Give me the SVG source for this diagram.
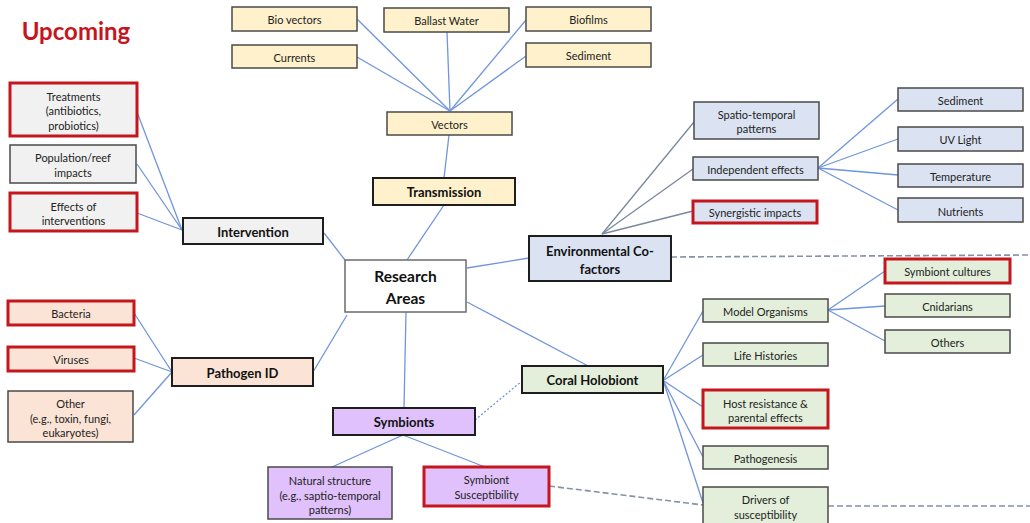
<svg xmlns="http://www.w3.org/2000/svg" width="1030" height="523" viewBox="0 0 1030 523">
<style>
text{font-family:Lato,"Liberation Sans",sans-serif;fill:#222;text-anchor:middle;dominant-baseline:central}
.t{font-size:11px}
.h{font-size:13px;font-weight:bold;fill:#111}
.leaf{stroke:#4a4a4a;stroke-width:1.5}
.main{stroke:#1e1e1e;stroke-width:2}
.red{stroke:#c5161d;stroke-width:3}
.yel{fill:#fef1cb}.gry{fill:#f1f1f1}.pch{fill:#fbe4d5}.pur{fill:#e0c1fb}.blu{fill:#dbe3f2}.grn{fill:#e3efda}
.c{stroke:#6f95dc;stroke-width:1.3;fill:none}
.g{stroke:#7a879d;stroke-width:1.3;fill:none}
.d{stroke:#8591a6;stroke-width:1.6;stroke-dasharray:6 3;fill:none}
.o{stroke:#6f95dc;stroke-width:1.3;stroke-dasharray:2 2;fill:none}
</style>
<text x="76" y="30" style="font-size:24px;font-weight:bold;fill:#c5161d">Upcoming</text>
<g id="connectors">
<line class="c" x1="357" y1="19" x2="450" y2="111"/>
<line class="c" x1="357" y1="57" x2="450" y2="111"/>
<line class="c" x1="447" y1="32" x2="450" y2="111"/>
<line class="c" x1="526" y1="20" x2="450" y2="111"/>
<line class="c" x1="526" y1="56" x2="450" y2="111"/>
<line class="c" x1="449" y1="135" x2="444" y2="178"/>
<line class="c" x1="444" y1="205" x2="407" y2="260"/>
<line class="c" x1="137" y1="112" x2="182" y2="230"/>
<line class="c" x1="137" y1="164" x2="182" y2="230"/>
<line class="c" x1="137" y1="213" x2="182" y2="230"/>
<line class="c" x1="324" y1="233" x2="345" y2="260"/>
<line class="c" x1="134" y1="313" x2="172" y2="372"/>
<line class="c" x1="134" y1="358" x2="172" y2="372"/>
<line class="c" x1="134" y1="415" x2="172" y2="372"/>
<line class="c" x1="313" y1="372" x2="347" y2="315"/>
<line class="c" x1="406" y1="312" x2="404" y2="408"/>
<line class="c" x1="403" y1="435" x2="332" y2="467"/>
<line class="c" x1="403" y1="435" x2="485" y2="467"/>
<line class="c" x1="467" y1="268" x2="529" y2="258"/>
<line class="c" x1="467" y1="302" x2="590" y2="367"/>
<line class="o" x1="475" y1="420" x2="522" y2="381"/>
<line class="g" x1="602" y1="234" x2="694" y2="122"/>
<line class="g" x1="602" y1="234" x2="693" y2="169"/>
<line class="g" x1="602" y1="234" x2="693" y2="211"/>
<line class="c" x1="818" y1="168" x2="898" y2="99"/>
<line class="c" x1="818" y1="168" x2="898" y2="139"/>
<line class="c" x1="818" y1="168" x2="898" y2="175"/>
<line class="c" x1="818" y1="168" x2="898" y2="210"/>
<line class="c" x1="664" y1="379" x2="703" y2="311"/>
<line class="c" x1="664" y1="380" x2="703" y2="355"/>
<line class="c" x1="664" y1="381" x2="703" y2="407"/>
<line class="c" x1="664" y1="382" x2="703" y2="457"/>
<line class="c" x1="664" y1="383" x2="703" y2="503"/>
<line class="c" x1="828" y1="310" x2="885" y2="271"/>
<line class="c" x1="828" y1="310" x2="885" y2="306"/>
<line class="c" x1="828" y1="310" x2="885" y2="341"/>
<line class="d" x1="671" y1="257" x2="1030" y2="255"/>
<line class="d" x1="549" y1="486" x2="703" y2="505"/>
<line class="d" x1="828" y1="506" x2="1030" y2="506"/>
</g>
<g id="bio-vectors"><rect class="leaf yel" x="232" y="7" width="125" height="24"/><text class="t" x="294.5" y="19">Bio vectors</text></g>
<g id="currents"><rect class="leaf yel" x="232" y="45" width="125" height="23"/><text class="t" x="294.5" y="57">Currents</text></g>
<g id="ballast-water"><rect class="leaf yel" x="384" y="8" width="125" height="24"/><text class="t" x="446.5" y="20">Ballast Water</text></g>
<g id="biofilms"><rect class="leaf yel" x="526" y="7" width="125" height="24"/><text class="t" x="588.5" y="19">Biofilms</text></g>
<g id="sediment-v"><rect class="leaf yel" x="526" y="43" width="125" height="24"/><text class="t" x="588.5" y="55">Sediment</text></g>
<g id="vectors"><rect class="leaf yel" x="387" y="112" width="125" height="23"/><text class="t" x="449.5" y="124">Vectors</text></g>
<g id="transmission"><rect class="main yel" x="373" y="178" width="142" height="27"/><text class="h" x="444" y="192">Transmission</text></g>
<g id="treatments"><rect class="red gry" x="10" y="83" width="127" height="53"/><text class="t" x="73.5" y="96">Treatments</text><text class="t" x="73.5" y="110.5">(antibiotics,</text><text class="t" x="73.5" y="125">probiotics)</text></g>
<g id="population"><rect class="leaf gry" x="10" y="145" width="126" height="38"/><text class="t" x="73" y="157">Population/reef</text><text class="t" x="73" y="172">impacts</text></g>
<g id="effects"><rect class="red gry" x="10" y="193" width="127" height="38"/><text class="t" x="73.5" y="206">Effects of</text><text class="t" x="73.5" y="220">interventions</text></g>
<g id="intervention"><rect class="main gry" x="183" y="218" width="140" height="26"/><text class="h" x="253" y="232">Intervention</text></g>
<g id="research-areas"><rect x="345" y="260" width="121" height="52" fill="#fff" stroke="#6b6b6b" stroke-width="1.5"/><text class="h" x="405.5" y="276" style="font-size:15.5px">Research</text><text class="h" x="405.5" y="298" style="font-size:15.5px">Areas</text></g>
<g id="bacteria"><rect class="red pch" x="8" y="301" width="126" height="24"/><text class="t" x="71" y="313">Bacteria</text></g>
<g id="viruses"><rect class="red pch" x="8" y="347" width="126" height="24"/><text class="t" x="71" y="359">Viruses</text></g>
<g id="other"><rect class="leaf pch" x="8" y="391" width="125" height="51"/><text class="t" x="70.5" y="403">Other</text><text class="t" x="70.5" y="418">(e.g., toxin, fungi,</text><text class="t" x="70.5" y="432">eukaryotes)</text></g>
<g id="pathogen-id"><rect class="main pch" x="172" y="358" width="141" height="28"/><text class="h" x="242.5" y="373">Pathogen ID</text></g>
<g id="symbionts"><rect class="main pur" x="333" y="408" width="142" height="27"/><text class="h" x="404" y="422">Symbionts</text></g>
<g id="natural-structure"><rect class="leaf pur" x="268" y="467" width="124" height="52"/><text class="t" x="330" y="480">Natural structure</text><text class="t" x="330" y="495">(e.g., saptio-temporal</text><text class="t" x="330" y="509">patterns)</text></g>
<g id="symbiont-susceptibility"><rect class="red pur" x="424" y="467" width="125" height="39"/><text class="t" x="486.5" y="479">Symbiont</text><text class="t" x="486.5" y="494">Susceptibility</text></g>
<g id="env-cofactors"><rect class="main blu" x="529" y="236" width="142" height="45"/><text class="h" x="600" y="251">Environmental Co-</text><text class="h" x="600" y="269">factors</text></g>
<g id="spatio-temporal"><rect class="leaf blu" x="694" y="102" width="125" height="37"/><text class="t" x="756.5" y="114">Spatio-temporal</text><text class="t" x="756.5" y="128">patterns</text></g>
<g id="independent-effects"><rect class="leaf blu" x="693" y="157" width="125" height="23"/><text class="t" x="755.5" y="169">Independent effects</text></g>
<g id="synergistic-impacts"><rect class="red blu" x="693" y="201" width="124" height="22"/><text class="t" x="755" y="212">Synergistic impacts</text></g>
<g id="sediment-e"><rect class="leaf blu" x="898" y="88" width="125" height="23"/><text class="t" x="960.5" y="100">Sediment</text></g>
<g id="uv-light"><rect class="leaf blu" x="898" y="127" width="125" height="24"/><text class="t" x="960.5" y="139">UV Light</text></g>
<g id="temperature"><rect class="leaf blu" x="898" y="164" width="125" height="23"/><text class="t" x="960.5" y="176">Temperature</text></g>
<g id="nutrients"><rect class="leaf blu" x="898" y="198" width="125" height="24"/><text class="t" x="960.5" y="211">Nutrients</text></g>
<g id="coral-holobiont"><rect class="main grn" x="522" y="366" width="141" height="27"/><text class="h" x="592.5" y="380">Coral Holobiont</text></g>
<g id="model-organisms"><rect class="leaf grn" x="703" y="299" width="125" height="23"/><text class="t" x="765.5" y="311">Model Organisms</text></g>
<g id="life-histories"><rect class="leaf grn" x="703" y="343" width="125" height="23"/><text class="t" x="765.5" y="355">Life Histories</text></g>
<g id="host-resistance"><rect class="red grn" x="703" y="390" width="125" height="38"/><text class="t" x="765.5" y="403">Host resistance &amp;</text><text class="t" x="765.5" y="417">parental effects</text></g>
<g id="pathogenesis"><rect class="leaf grn" x="703" y="446" width="125" height="23"/><text class="t" x="765.5" y="458">Pathogenesis</text></g>
<g id="drivers"><rect class="leaf grn" x="703" y="487" width="125" height="40"/><text class="t" x="765.5" y="499">Drivers of</text><text class="t" x="765.5" y="514">susceptibility</text></g>
<g id="symbiont-cultures"><rect class="red grn" x="885" y="259" width="125" height="24"/><text class="t" x="947.5" y="271">Symbiont cultures</text></g>
<g id="cnidarians"><rect class="leaf grn" x="885" y="294" width="125" height="23"/><text class="t" x="947.5" y="306">Cnidarians</text></g>
<g id="others"><rect class="leaf grn" x="885" y="330" width="125" height="23"/><text class="t" x="947.5" y="342">Others</text></g>
</svg>
